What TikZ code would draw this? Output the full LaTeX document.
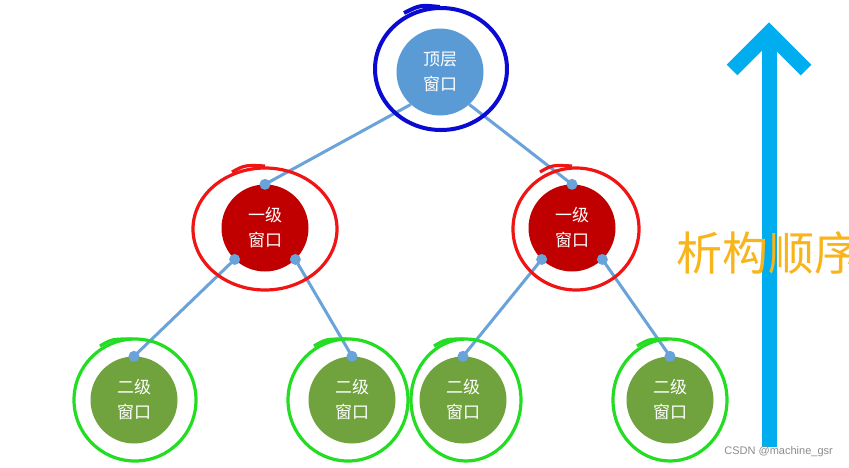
\documentclass[tikz,border=0pt]{standalone}
\usepackage{fontspec}
\newfontfamily\cjk{Noto Sans CJK SC}
\setmainfont{Liberation Sans}
\definecolor{topblue}{HTML}{5B9BD5}
\definecolor{linkblue}{HTML}{6AA3DA}
\definecolor{lvlred}{HTML}{C00000}
\definecolor{lvlgreen}{HTML}{70A23E}
\definecolor{penblue}{HTML}{0A0AD2}
\definecolor{penred}{HTML}{F01414}
\definecolor{pengreen}{HTML}{22DD22}
\definecolor{arrowcyan}{HTML}{00AEEF}
\definecolor{textorange}{HTML}{F9B41A}
\begin{document}
\begin{tikzpicture}[x=1pt,y=-1pt,
  win/.style={circle, inner sep=0pt, minimum size=87pt, text=white, align=center,
    font=\cjk\fontsize{17}{25}\selectfont},
  link/.style={draw=linkblue, line width=3pt},
  pen/.style={line width=3.2pt},
]
\useasboundingbox (0,0) rectangle (849,467);
\fill[white] (0,0) rectangle (849,467);
\begin{scope}
\clip (0,0) rectangle (849,467);
% arrow
\draw[arrowcyan, line width=15pt] (769,447) -- (769,42);
\draw[arrowcyan, line width=15pt, line join=miter] (732,70) -- (769,33) -- (806,70);
\node[font=\cjk\fontsize{46}{46}\selectfont, text=textorange, anchor=west, inner sep=0pt] (order) at (676,253) {析构顺序};
\end{scope}

% nodes
\node[win, fill=topblue] (top) at (440,72) {顶层\\窗口};
\node[win, fill=lvlred] (ra) at (265,228) {一级\\窗口};
\node[win, fill=lvlred] (rb) at (572,228) {一级\\窗口};
\node[win, fill=lvlgreen] (g1) at (134,400) {二级\\窗口};
\node[win, fill=lvlgreen] (g2) at (352,400) {二级\\窗口};
\node[win, fill=lvlgreen] (g3) at (463,400) {二级\\窗口};
\node[win, fill=lvlgreen] (g4) at (670,400) {二级\\窗口};

% connectors
\draw[link] (top.228) -- (ra.90);
\draw[link] (top.312) -- (rb.90);
\draw[link] (ra.226) -- (g1.90);
\draw[link] (ra.314) -- (g2.90);
\draw[link] (rb.226) -- (g3.90);
\draw[link] (rb.314) -- (g4.90);
\foreach \p in {ra.90, rb.90, ra.226, ra.314, rb.226, rb.314, g1.90, g2.90, g3.90, g4.90}
  \fill[linkblue] (\p) circle (5.5pt);

% hand-drawn outlines
\draw[pen, penblue, line width=4pt] (441,69) ellipse [x radius=66, y radius=61];
\draw[pen, penblue, line width=4pt] (404,13) .. controls (420,5) .. (440,7);
\draw[pen, penred] (265,229) ellipse [x radius=72, y radius=61];
\draw[pen, penred] (232,172) .. controls (245,165) .. (265,166);
\draw[pen, penred] (576,229) ellipse [x radius=63, y radius=61];
\draw[pen, penred] (540,172) .. controls (552,165) .. (572,166);
\draw[pen, pengreen] (135,400) ellipse [x radius=61, y radius=61];
\draw[pen, pengreen] (100,346) .. controls (112,339) .. (132,339);
\draw[pen, pengreen] (348,400) ellipse [x radius=60, y radius=61];
\draw[pen, pengreen] (314,346) .. controls (326,339) .. (346,339);
\draw[pen, pengreen] (466,400) ellipse [x radius=55, y radius=61];
\draw[pen, pengreen] (434,346) .. controls (446,339) .. (464,339);
\draw[pen, pengreen] (670,400) ellipse [x radius=57, y radius=61];
\draw[pen, pengreen] (637,346) .. controls (649,339) .. (668,339);

% watermark
\node[font=\fontsize{11}{11}\selectfont, text=black!45, anchor=east, inner sep=0pt] (mark) at (833,452) {CSDN @machine\_gsr};
\end{tikzpicture}
\end{document}
